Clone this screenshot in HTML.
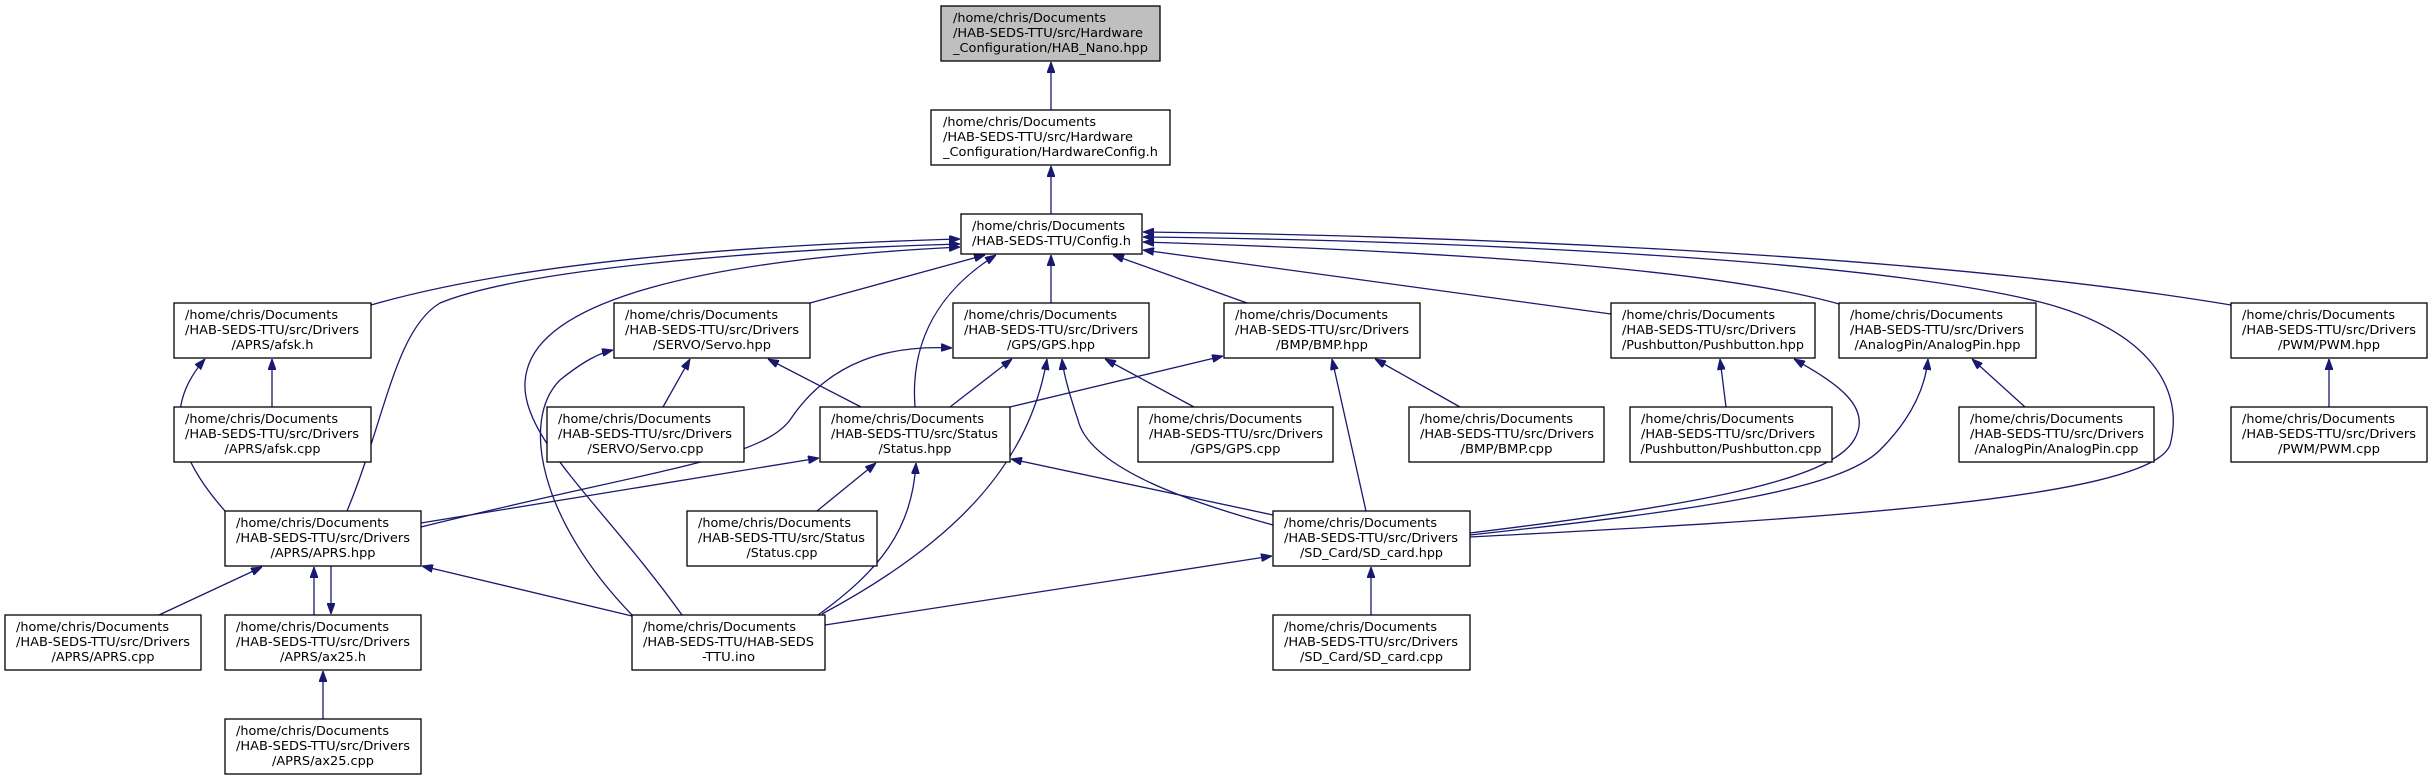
<!DOCTYPE html>
<html><head><meta charset="utf-8"><style>
html,body{margin:0;padding:0;background:#fff;}
svg{display:block}
text{font-family:"DejaVu Sans Condensed","DejaVu Sans","Liberation Sans",sans-serif;font-size:12.5px;fill:#000}
.e{fill:none;stroke:#191970;stroke-width:1.3}
.b{fill:#fff;stroke:#000;stroke-width:1.3}
</style></head><body>
<svg width="2432" height="780" viewBox="0 0 2432 780" xmlns="http://www.w3.org/2000/svg">
<defs><marker id="a" markerWidth="11" markerHeight="8" refX="11" refY="4" orient="auto" markerUnits="userSpaceOnUse"><path d="M0,0 L11,4 L0,8 z" fill="#191970" stroke="#191970"/></marker></defs>
<g class="e" marker-end="url(#a)">
<path d="M1051,110 L1051,62"/>
<path d="M1051,214 L1051,166"/>
<path d="M371,305 C520,262 750,245 960,239"/>
<path d="M347,511 C385,420 395,330 440,303 C520,270 750,250 960,244"/>
<path d="M682,615 C600,500 510,430 527,370 C545,300 700,260 960,247"/>
<path d="M632,615 C540,520 520,420 560,380 C585,360 600,353 613,350"/>
<path d="M810,303 L985,255"/>
<path d="M663,407 L690,359"/>
<path d="M861,407 L768,359"/>
<path d="M915,407 C910,340 940,290 996,255"/>
<path d="M1051,303 L1051,255"/>
<path d="M950,407 L1012,359"/>
<path d="M1194,407 L1105,359"/>
<path d="M1247,303 L1113,255"/>
<path d="M1010,407 L1223,356"/>
<path d="M1460,407 L1375,359"/>
<path d="M1366,511 L1332,359"/>
<path d="M1611,314 L1143,250"/>
<path d="M1726,407 L1720,359"/>
<path d="M1470,533 C1700,505 1830,480 1854,440 C1875,405 1830,380 1794,359"/>
<path d="M1839,304 C1700,265 1400,250 1143,242"/>
<path d="M2025,407 L1972,359"/>
<path d="M1470,535 C1700,510 1840,490 1880,450 C1910,420 1925,390 1928,359"/>
<path d="M1470,537 C1800,520 2150,500 2170,445 C2185,390 2150,330 2040,302 C1850,255 1400,240 1143,237"/>
<path d="M2231,305 C1900,250 1400,235 1143,232"/>
<path d="M2329,407 L2329,359"/>
<path d="M421,523 L819,458"/>
<path d="M421,527 C650,470 760,460 790,420 C830,360 890,345 952,348"/>
<path d="M817,511 L876,463"/>
<path d="M818,615 C880,570 912,530 916,463"/>
<path d="M822,614 C960,540 1030,460 1047,359"/>
<path d="M1273,525 C1200,505 1090,470 1078,420 C1068,390 1063,370 1062,359"/>
<path d="M1273,515 L1011,459"/>
<path d="M825,625 L1272,556"/>
<path d="M632,616 L422,566"/>
<path d="M159,615 L262,567"/>
<path d="M314,615 L314,567"/>
<path d="M331,566 L331,614"/>
<path d="M1371,615 L1371,567"/>
<path d="M323,719 L323,671"/>
<path d="M225,511 C180,460 160,410 205,359"/>
<path d="M272,407 L272,359"/>
</g>

<g>
<rect x="941" y="6" width="219" height="55" style="fill:#bfbfbf;stroke:#000;stroke-width:1.3"/>
<text x="953" y="22" textLength="153" lengthAdjust="spacingAndGlyphs">/home/chris/Documents</text>
<text x="953" y="37" textLength="190" lengthAdjust="spacingAndGlyphs">/HAB-SEDS-TTU/src/Hardware</text>
<text x="953" y="52" textLength="195" lengthAdjust="spacingAndGlyphs">_Configuration/HAB_Nano.hpp</text>
<rect class="b" x="931" y="110" width="239" height="55"/>
<text x="943" y="126" textLength="153" lengthAdjust="spacingAndGlyphs">/home/chris/Documents</text>
<text x="943" y="141" textLength="190" lengthAdjust="spacingAndGlyphs">/HAB-SEDS-TTU/src/Hardware</text>
<text x="943" y="156" textLength="215" lengthAdjust="spacingAndGlyphs">_Configuration/HardwareConfig.h</text>
<rect class="b" x="961" y="214" width="181" height="40"/>
<text x="972" y="230" textLength="153" lengthAdjust="spacingAndGlyphs">/home/chris/Documents</text>
<text x="972" y="245" textLength="159" lengthAdjust="spacingAndGlyphs">/HAB-SEDS-TTU/Config.h</text>
</g>

<g>
<rect class="b" x="174" y="303" width="197" height="55"/>
<text x="185" y="319" textLength="153" lengthAdjust="spacingAndGlyphs">/home/chris/Documents</text>
<text x="185" y="334" textLength="174" lengthAdjust="spacingAndGlyphs">/HAB-SEDS-TTU/src/Drivers</text>
<text x="272.5" y="349" text-anchor="middle" textLength="82" lengthAdjust="spacingAndGlyphs">/APRS/afsk.h</text>

<rect class="b" x="614" y="303" width="196" height="55"/>
<text x="625" y="319" textLength="153" lengthAdjust="spacingAndGlyphs">/home/chris/Documents</text>
<text x="625" y="334" textLength="174" lengthAdjust="spacingAndGlyphs">/HAB-SEDS-TTU/src/Drivers</text>
<text x="712" y="349" text-anchor="middle" textLength="118" lengthAdjust="spacingAndGlyphs">/SERVO/Servo.hpp</text>

<rect class="b" x="953" y="303" width="196" height="55"/>
<text x="964" y="319" textLength="153" lengthAdjust="spacingAndGlyphs">/home/chris/Documents</text>
<text x="964" y="334" textLength="174" lengthAdjust="spacingAndGlyphs">/HAB-SEDS-TTU/src/Drivers</text>
<text x="1051" y="349" text-anchor="middle" textLength="88" lengthAdjust="spacingAndGlyphs">/GPS/GPS.hpp</text>

<rect class="b" x="1224" y="303" width="196" height="55"/>
<text x="1235" y="319" textLength="153" lengthAdjust="spacingAndGlyphs">/home/chris/Documents</text>
<text x="1235" y="334" textLength="174" lengthAdjust="spacingAndGlyphs">/HAB-SEDS-TTU/src/Drivers</text>
<text x="1322" y="349" text-anchor="middle" textLength="92" lengthAdjust="spacingAndGlyphs">/BMP/BMP.hpp</text>

<rect class="b" x="1611" y="303" width="204" height="55"/>
<text x="1622" y="319" textLength="153" lengthAdjust="spacingAndGlyphs">/home/chris/Documents</text>
<text x="1622" y="334" textLength="174" lengthAdjust="spacingAndGlyphs">/HAB-SEDS-TTU/src/Drivers</text>
<text x="1713" y="349" text-anchor="middle" textLength="182" lengthAdjust="spacingAndGlyphs">/Pushbutton/Pushbutton.hpp</text>

<rect class="b" x="1839" y="303" width="197" height="55"/>
<text x="1850" y="319" textLength="153" lengthAdjust="spacingAndGlyphs">/home/chris/Documents</text>
<text x="1850" y="334" textLength="174" lengthAdjust="spacingAndGlyphs">/HAB-SEDS-TTU/src/Drivers</text>
<text x="1937.5" y="349" text-anchor="middle" textLength="166" lengthAdjust="spacingAndGlyphs">/AnalogPin/AnalogPin.hpp</text>

<rect class="b" x="2231" y="303" width="196" height="55"/>
<text x="2242" y="319" textLength="153" lengthAdjust="spacingAndGlyphs">/home/chris/Documents</text>
<text x="2242" y="334" textLength="174" lengthAdjust="spacingAndGlyphs">/HAB-SEDS-TTU/src/Drivers</text>
<text x="2329" y="349" text-anchor="middle" textLength="102" lengthAdjust="spacingAndGlyphs">/PWM/PWM.hpp</text>

<rect class="b" x="174" y="407" width="197" height="55"/>
<text x="185" y="423" textLength="153" lengthAdjust="spacingAndGlyphs">/home/chris/Documents</text>
<text x="185" y="438" textLength="174" lengthAdjust="spacingAndGlyphs">/HAB-SEDS-TTU/src/Drivers</text>
<text x="272.5" y="453" text-anchor="middle" textLength="96" lengthAdjust="spacingAndGlyphs">/APRS/afsk.cpp</text>

<rect class="b" x="547" y="407" width="197" height="55"/>
<text x="558" y="423" textLength="153" lengthAdjust="spacingAndGlyphs">/home/chris/Documents</text>
<text x="558" y="438" textLength="174" lengthAdjust="spacingAndGlyphs">/HAB-SEDS-TTU/src/Drivers</text>
<text x="645.5" y="453" text-anchor="middle" textLength="116" lengthAdjust="spacingAndGlyphs">/SERVO/Servo.cpp</text>

<rect class="b" x="820" y="407" width="190" height="55"/>
<text x="831" y="423" textLength="153" lengthAdjust="spacingAndGlyphs">/home/chris/Documents</text>
<text x="831" y="438" textLength="167" lengthAdjust="spacingAndGlyphs">/HAB-SEDS-TTU/src/Status</text>
<text x="915" y="453" text-anchor="middle" textLength="73" lengthAdjust="spacingAndGlyphs">/Status.hpp</text>

<rect class="b" x="1138" y="407" width="195" height="55"/>
<text x="1149" y="423" textLength="153" lengthAdjust="spacingAndGlyphs">/home/chris/Documents</text>
<text x="1149" y="438" textLength="174" lengthAdjust="spacingAndGlyphs">/HAB-SEDS-TTU/src/Drivers</text>
<text x="1235.5" y="453" text-anchor="middle" textLength="90" lengthAdjust="spacingAndGlyphs">/GPS/GPS.cpp</text>

<rect class="b" x="1409" y="407" width="195" height="55"/>
<text x="1420" y="423" textLength="153" lengthAdjust="spacingAndGlyphs">/home/chris/Documents</text>
<text x="1420" y="438" textLength="174" lengthAdjust="spacingAndGlyphs">/HAB-SEDS-TTU/src/Drivers</text>
<text x="1506.5" y="453" text-anchor="middle" textLength="92" lengthAdjust="spacingAndGlyphs">/BMP/BMP.cpp</text>

<rect class="b" x="1630" y="407" width="202" height="55"/>
<text x="1641" y="423" textLength="153" lengthAdjust="spacingAndGlyphs">/home/chris/Documents</text>
<text x="1641" y="438" textLength="174" lengthAdjust="spacingAndGlyphs">/HAB-SEDS-TTU/src/Drivers</text>
<text x="1731" y="453" text-anchor="middle" textLength="181" lengthAdjust="spacingAndGlyphs">/Pushbutton/Pushbutton.cpp</text>

<rect class="b" x="1959" y="407" width="195" height="55"/>
<text x="1970" y="423" textLength="153" lengthAdjust="spacingAndGlyphs">/home/chris/Documents</text>
<text x="1970" y="438" textLength="174" lengthAdjust="spacingAndGlyphs">/HAB-SEDS-TTU/src/Drivers</text>
<text x="2056.5" y="453" text-anchor="middle" textLength="164" lengthAdjust="spacingAndGlyphs">/AnalogPin/AnalogPin.cpp</text>

<rect class="b" x="2231" y="407" width="196" height="55"/>
<text x="2242" y="423" textLength="153" lengthAdjust="spacingAndGlyphs">/home/chris/Documents</text>
<text x="2242" y="438" textLength="174" lengthAdjust="spacingAndGlyphs">/HAB-SEDS-TTU/src/Drivers</text>
<text x="2329" y="453" text-anchor="middle" textLength="102" lengthAdjust="spacingAndGlyphs">/PWM/PWM.cpp</text>

<rect class="b" x="225" y="511" width="196" height="55"/>
<text x="236" y="527" textLength="153" lengthAdjust="spacingAndGlyphs">/home/chris/Documents</text>
<text x="236" y="542" textLength="174" lengthAdjust="spacingAndGlyphs">/HAB-SEDS-TTU/src/Drivers</text>
<text x="323" y="557" text-anchor="middle" textLength="105" lengthAdjust="spacingAndGlyphs">/APRS/APRS.hpp</text>

<rect class="b" x="687" y="511" width="190" height="55"/>
<text x="698" y="527" textLength="153" lengthAdjust="spacingAndGlyphs">/home/chris/Documents</text>
<text x="698" y="542" textLength="167" lengthAdjust="spacingAndGlyphs">/HAB-SEDS-TTU/src/Status</text>
<text x="782" y="557" text-anchor="middle" textLength="71" lengthAdjust="spacingAndGlyphs">/Status.cpp</text>

<rect class="b" x="1273" y="511" width="197" height="55"/>
<text x="1284" y="527" textLength="153" lengthAdjust="spacingAndGlyphs">/home/chris/Documents</text>
<text x="1284" y="542" textLength="174" lengthAdjust="spacingAndGlyphs">/HAB-SEDS-TTU/src/Drivers</text>
<text x="1371.5" y="557" text-anchor="middle" textLength="143" lengthAdjust="spacingAndGlyphs">/SD_Card/SD_card.hpp</text>

<rect class="b" x="5" y="615" width="196" height="55"/>
<text x="16" y="631" textLength="153" lengthAdjust="spacingAndGlyphs">/home/chris/Documents</text>
<text x="16" y="646" textLength="174" lengthAdjust="spacingAndGlyphs">/HAB-SEDS-TTU/src/Drivers</text>
<text x="103" y="661" text-anchor="middle" textLength="103" lengthAdjust="spacingAndGlyphs">/APRS/APRS.cpp</text>

<rect class="b" x="225" y="615" width="196" height="55"/>
<text x="236" y="631" textLength="153" lengthAdjust="spacingAndGlyphs">/home/chris/Documents</text>
<text x="236" y="646" textLength="174" lengthAdjust="spacingAndGlyphs">/HAB-SEDS-TTU/src/Drivers</text>
<text x="323" y="661" text-anchor="middle" textLength="86" lengthAdjust="spacingAndGlyphs">/APRS/ax25.h</text>

<rect class="b" x="632" y="615" width="193" height="55"/>
<text x="643" y="631" textLength="153" lengthAdjust="spacingAndGlyphs">/home/chris/Documents</text>
<text x="643" y="646" textLength="171" lengthAdjust="spacingAndGlyphs">/HAB-SEDS-TTU/HAB-SEDS</text>
<text x="728.5" y="661" text-anchor="middle" textLength="53" lengthAdjust="spacingAndGlyphs">-TTU.ino</text>

<rect class="b" x="1273" y="615" width="197" height="55"/>
<text x="1284" y="631" textLength="153" lengthAdjust="spacingAndGlyphs">/home/chris/Documents</text>
<text x="1284" y="646" textLength="174" lengthAdjust="spacingAndGlyphs">/HAB-SEDS-TTU/src/Drivers</text>
<text x="1371.5" y="661" text-anchor="middle" textLength="143" lengthAdjust="spacingAndGlyphs">/SD_Card/SD_card.cpp</text>

<rect class="b" x="225" y="719" width="196" height="55"/>
<text x="236" y="735" textLength="153" lengthAdjust="spacingAndGlyphs">/home/chris/Documents</text>
<text x="236" y="750" textLength="174" lengthAdjust="spacingAndGlyphs">/HAB-SEDS-TTU/src/Drivers</text>
<text x="323" y="765" text-anchor="middle" textLength="102" lengthAdjust="spacingAndGlyphs">/APRS/ax25.cpp</text>
</g>
</svg>
</body></html>
